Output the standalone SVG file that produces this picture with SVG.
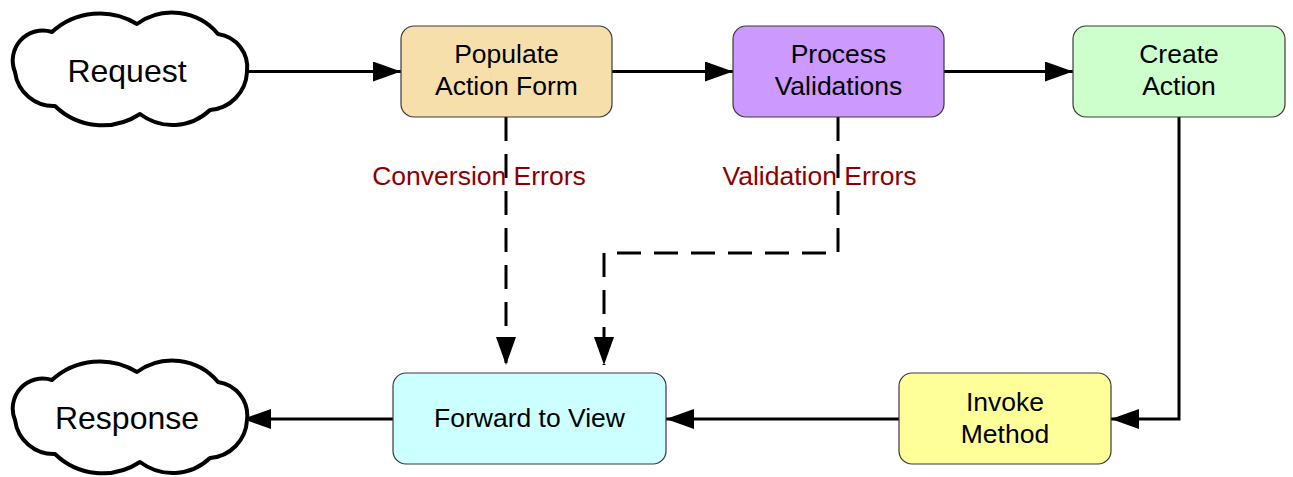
<svg xmlns="http://www.w3.org/2000/svg" xmlns:xlink="http://www.w3.org/1999/xlink" width="1293" height="477" viewBox="0 0 1293 477">
  <style>
    .box { stroke: #3a3a3a; stroke-width: 1.2; }
    .cloud { fill: #ffffff; stroke: #000000; stroke-width: 4; stroke-linejoin: round; }
    .txt { font-family: "Liberation Sans", Arial, sans-serif; font-size: 26.5px; fill: #000000; text-anchor: middle; }
    .big { font-size: 32px; }
    .lbl { font-family: "Liberation Sans", Arial, sans-serif; font-size: 26.5px; fill: #8b0000; text-anchor: middle; }
    .edge { fill: none; stroke: #000000; stroke-width: 3; }
    .dash { stroke-dasharray: 24 13; }
  </style>
  <defs>
    <marker id="arrow" viewBox="0 0 28 20" refX="28" refY="10" markerWidth="28" markerHeight="20" markerUnits="userSpaceOnUse" orient="auto">
      <path d="M0,0 L28,10 L0,20 Z" fill="#000000"/>
    </marker>
    <path id="cloudShape" class="cloud" d="M15,72 A30,30 0 0 1 52,32 A71,71 0 0 1 137,24 A60,60 0 0 1 218,34 A34,34 0 0 1 247,72 A40,40 0 0 1 210,110 A54,54 0 0 1 140,114 A68,68 0 0 1 55,106 A39,39 0 0 1 15,72 Z"/>
  </defs>

  <!-- connectors -->
  <g id="connectors">
    <path class="edge" d="M245,71.5 H401" marker-end="url(#arrow)"/>
    <path class="edge" d="M612,71.5 H733" marker-end="url(#arrow)"/>
    <path class="edge" d="M944,71.5 H1073" marker-end="url(#arrow)"/>
    <path class="edge" d="M1179,117 V419 H1111" marker-end="url(#arrow)"/>
    <path class="edge" d="M899,419 H666" marker-end="url(#arrow)"/>
    <path class="edge" d="M393,419 H243" marker-end="url(#arrow)"/>
    <path class="edge dash" d="M506,117 V365" marker-end="url(#arrow)"/>
    <path class="edge dash" d="M838,117 V253 H604 V365" marker-end="url(#arrow)"/>
    <text class="lbl" x="479" y="185">Conversion Errors</text>
    <text class="lbl" x="819.5" y="185">Validation Errors</text>
  </g>

  <g id="request">
    <use xlink:href="#cloudShape"/>
    <text class="txt big" x="127" y="82">Request</text>
  </g>

  <g id="populate">
    <rect class="box" x="401" y="26" width="211" height="91" rx="13" fill="#f6dfaa"/>
    <text class="txt" x="506.5" y="63">Populate</text>
    <text class="txt" x="506.5" y="95">Action Form</text>
  </g>

  <g id="process">
    <rect class="box" x="733" y="26" width="211" height="91" rx="13" fill="#cc99ff"/>
    <text class="txt" x="838.5" y="63">Process</text>
    <text class="txt" x="838.5" y="95">Validations</text>
  </g>

  <g id="create">
    <rect class="box" x="1073" y="26" width="212" height="91" rx="13" fill="#ccffcc"/>
    <text class="txt" x="1179" y="63">Create</text>
    <text class="txt" x="1179" y="95">Action</text>
  </g>

  <g id="invoke">
    <rect class="box" x="899" y="373" width="212" height="91" rx="13" fill="#ffff99"/>
    <text class="txt" x="1005" y="411">Invoke</text>
    <text class="txt" x="1005" y="443">Method</text>
  </g>

  <g id="forward">
    <rect class="box" x="393" y="373" width="273" height="91" rx="13" fill="#ccffff"/>
    <text class="txt" x="529.5" y="427">Forward to View</text>
  </g>

  <g id="response">
    <use xlink:href="#cloudShape" transform="translate(0,348)"/>
    <text class="txt big" x="127" y="429">Response</text>
  </g>
</svg>
